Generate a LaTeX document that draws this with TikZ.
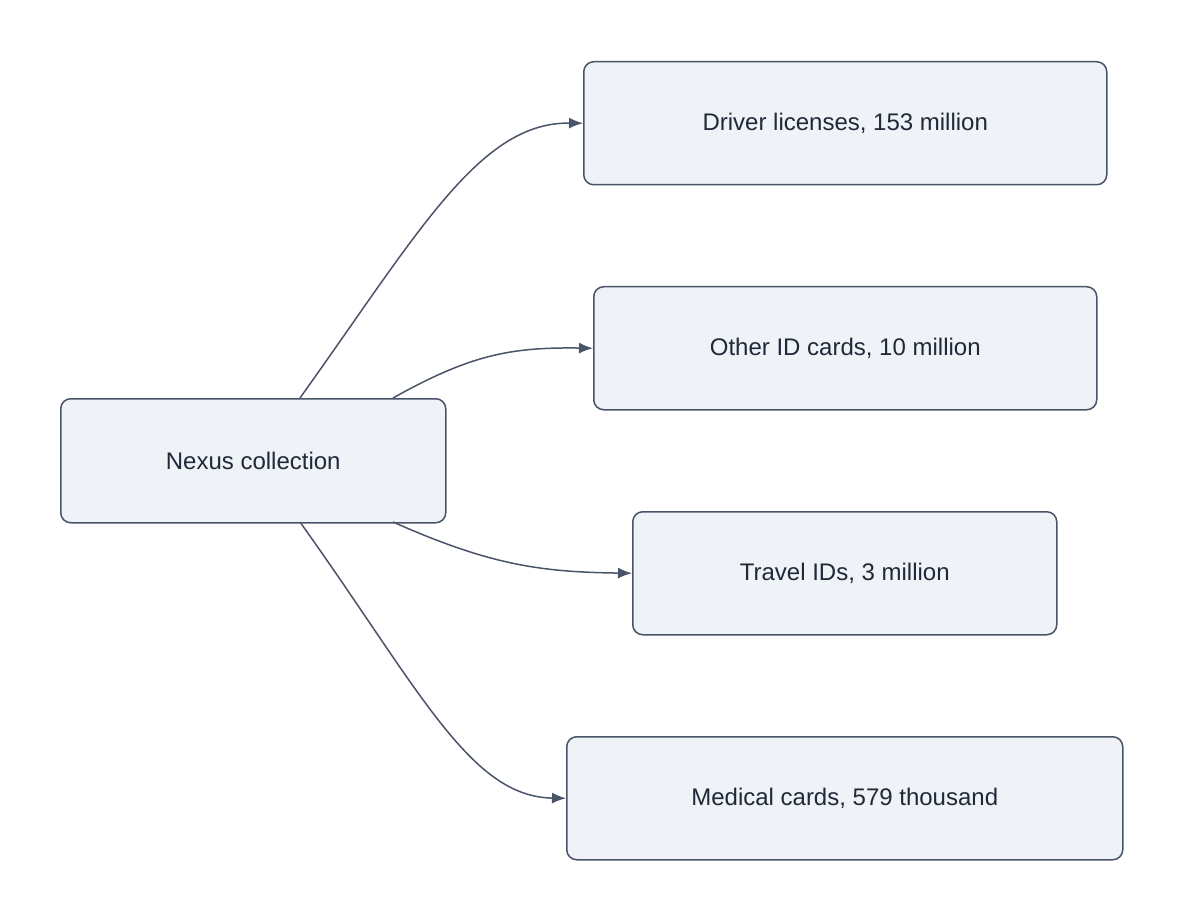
\documentclass[tikz,border=0pt]{standalone}
\usepackage{fontspec}
\setmainfont{Liberation Sans}
\usetikzlibrary{arrows.meta}
\definecolor{fillc}{HTML}{EFF3F8}
\definecolor{strokec}{HTML}{4A5468}
\definecolor{textc}{HTML}{1F2937}
\begin{document}
\begin{tikzpicture}[x=1pt,y=-1pt,
  box/.style={draw=strokec,fill=fillc,line width=1.5pt,rounded corners=10pt,text=textc,font=\fontsize{24}{28}\selectfont,anchor=north west,inner sep=0pt,align=center},
  edge/.style={draw=strokec,line width=1.5pt,-{Latex[length=14pt,width=11pt]}}]
\useasboundingbox (0,0) rectangle (1184,920);
\node[box,minimum width=385pt,minimum height=124pt] (n) at (60,398) {Nexus collection};
\node[box,minimum width=523pt,minimum height=123pt] (a) at (583,61) {Driver licenses, 153 million};
\node[box,minimum width=503pt,minimum height=123pt] (b) at (593,286) {Other ID cards, 10 million};
\node[box,minimum width=424pt,minimum height=123pt] (c) at (632,511) {Travel IDs, 3 million};
\node[box,minimum width=556pt,minimum height=123pt] (d) at (566,736) {Medical cards, 579 thousand};
\coordinate (n1) at (300,398);
\coordinate (n2) at (393,398);
\coordinate (n3) at (393,522);
\coordinate (n4) at (300,522);
\draw[edge] (n1) .. controls (420,230) and (480,122) .. (a.west);
\draw[edge] (n2) .. controls (470,355) and (510,347) .. (b.west);
\draw[edge] (n3) .. controls (490,565) and (540,572) .. (c.west);
\draw[edge] (n4) .. controls (420,690) and (470,797) .. (d.west);
\end{tikzpicture}
\end{document}
